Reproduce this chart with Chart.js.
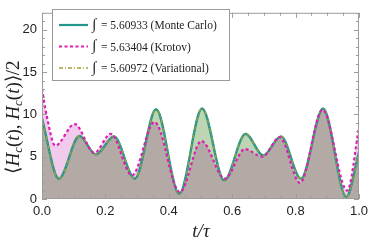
<!DOCTYPE html>
<html>
<head>
<meta charset="utf-8">
<script src="https://cdn.jsdelivr.net/npm/chart.js@4"></script>
<style>
  html, body { margin: 0; padding: 0; background: #fff; }
</style>
</head>
<body>
<canvas id="chart" width="373" height="242"></canvas>
<script>
// values (t/tau and <Hc,Hc>/2)
const tMonteCarlo = [0, 0.053, 0.118, 0.170, 0.227, 0.293, 0.360, 0.433, 0.505, 0.575, 0.642, 0.698, 0.754, 0.817, 0.887, 0.960, 1.0];
const monteCarlo = [9.5, 2.4, 7.45, 5.25, 7.4, 2.4, 10.6, 0.6, 10.7, 2.2, 7.7, 5.15, 7.4, 2.4, 10.7, 0.25, 5.5];
const variational = [9.5, 2.4, 7.45, 5.25, 7.4, 2.4, 10.6, 0.6, 10.7, 2.2, 7.7, 5.15, 7.4, 2.4, 10.7, 0.25, 5.5];
const tKrotov = [0, 0.015, 0.042, 0.103, 0.165, 0.217, 0.284, 0.355, 0.435, 0.503, 0.577, 0.640, 0.695, 0.750, 0.814, 0.885, 0.963, 1.0];
const krotov = [13.0, 9.8, 6.3, 8.85, 5.45, 7.7, 2.8, 9.1, 0.8, 6.85, 2.4, 5.9, 5.0, 7.3, 1.9, 10.55, 1.0, 8.4];

const seriesNames = ['Monte Carlo', 'Krotov', 'Variational'];
const integrals = ['5.60933', '5.63404', '5.60972'];

const xTicks = [0, 0.2, 0.4, 0.6, 0.8, 1.0];
const yTicks = [0, 5, 10, 15, 20];

const toPoints = (ts, vs) => ts.map((t, i) => ({ x: t, y: vs[i] }));

const COL_MC = '#23968c';
const COL_KR = '#dd1fb6';
const COL_VAR = '#a8a032';

// fills are multiplied so the overlap gets the brownish tone
const fillBlend = {
  id: 'fillBlend',
  beforeDatasetsDraw(chart) { chart.ctx.globalCompositeOperation = 'multiply'; },
  beforeDatasetDraw(chart, args) {
    if (!chart.data.datasets[args.index].fill) chart.ctx.globalCompositeOperation = 'source-over';
  },
  afterDatasetsDraw(chart) { chart.ctx.globalCompositeOperation = 'source-over'; }
};

// mathematica style frame with inward ticks on all four sides
const frame = {
  id: 'frame',
  afterDatasetsDraw(chart) {
    const { ctx, chartArea: a, scales } = chart;
    const xs = scales.x, ys = scales.y;
    ctx.save();
    ctx.strokeStyle = '#9d9d9d';
    ctx.lineWidth = 1;
    ctx.strokeRect(a.left + 0.5, a.top + 0.5, a.right - a.left - 1, a.bottom - a.top - 1);
    ctx.beginPath();
    for (let i = 0; i <= 20; i++) {
      const v = i * 0.05;
      const px = Math.round(xs.getPixelForValue(v)) + 0.5;
      const len = i % 4 === 0 ? 5 : 3;
      ctx.moveTo(px, a.bottom); ctx.lineTo(px, a.bottom - len);
      ctx.moveTo(px, a.top); ctx.lineTo(px, a.top + len);
    }
    for (let v = 0; v <= 22; v++) {
      const py = Math.round(ys.getPixelForValue(v)) + 0.5;
      const len = v % 5 === 0 ? 5 : 3;
      ctx.moveTo(a.left, py); ctx.lineTo(a.left + len, py);
      ctx.moveTo(a.right, py); ctx.lineTo(a.right - len, py);
    }
    ctx.stroke();
    ctx.restore();
  },
  afterDraw(chart) {
    const ctx = chart.ctx;
    ctx.save();
    // legend box
    ctx.fillStyle = '#fff';
    ctx.fillRect(52.5, 9.5, 177, 71);
    ctx.strokeStyle = '#9a9a9a';
    ctx.lineWidth = 1;
    ctx.strokeRect(52.5, 9.5, 177, 71);
    const styles = [
      { c: COL_MC, w: 2.2, d: [] },
      { c: COL_KR, w: 2, d: [3, 2.5] },
      { c: COL_VAR, w: 1.5, d: [4, 2, 1, 2] }
    ];
    seriesNames.forEach((name, i) => {
      const y = 25 + i * 21.5;
      ctx.strokeStyle = styles[i].c;
      ctx.lineWidth = styles[i].w;
      ctx.setLineDash(styles[i].d);
      ctx.beginPath(); ctx.moveTo(59, y); ctx.lineTo(88, y); ctx.stroke();
      ctx.setLineDash([]);
      ctx.fillStyle = '#222';
      ctx.textBaseline = 'middle';
      ctx.textAlign = 'left';
      ctx.font = '15px "Liberation Serif"';
      ctx.fillText('\u222B', 92, y);
      ctx.font = '11.5px "Liberation Serif"';
      ctx.fillText('= ' + integrals[i] + ' (' + name + ')', 101, y + 1);
    });

    // y axis title  <H_c(t),H_c(t)>/2
    const parts = [
      ['\u27E8', 'n'], ['H', 'i'], ['c', 's'], ['(', 'n'], ['t', 'i'], [')', 'n'], [', ', 'n'],
      ['H', 'i'], ['c', 's'], ['(', 'n'], ['t', 'i'], [')', 'n'], ['\u27E9', 'n'], ['/2', 'n']
    ];
    const fontFor = k => k === 'n' ? '19px "Liberation Serif"'
      : k === 'i' ? 'italic 19px "Liberation Serif"' : 'italic 13px "Liberation Serif"';
    let total = 0;
    parts.forEach(p => { ctx.font = fontFor(p[1]); total += ctx.measureText(p[0]).width; });
    ctx.translate(14, 117);
    ctx.rotate(-Math.PI / 2);
    ctx.fillStyle = '#222';
    ctx.textBaseline = 'middle';
    let x = -total / 2;
    parts.forEach(p => {
      ctx.font = fontFor(p[1]);
      ctx.fillText(p[0], x, p[1] === 's' ? 5 : 0);
      x += ctx.measureText(p[0]).width;
    });
    ctx.restore();

    // x axis title
    ctx.save();
    ctx.fillStyle = '#222';
    ctx.font = 'italic 19px "Liberation Serif"';
    ctx.textAlign = 'center';
    ctx.textBaseline = 'middle';
    ctx.fillText('t/\u03C4', 201, 232);
    ctx.restore();
  }
};

const tickFont = { family: 'Liberation Sans', size: 13 };

new Chart(document.getElementById('chart'), {
  type: 'line',
  data: {
    datasets: [
      { label: 'fill MC', data: toPoints(tMonteCarlo, monteCarlo), fill: 'origin', backgroundColor: '#bed5b3',
        borderWidth: 0, pointRadius: 0, cubicInterpolationMode: 'monotone', order: 5 },
      { label: 'fill Krotov', data: toPoints(tKrotov, krotov), fill: 'origin', backgroundColor: '#f1cbeb',
        borderWidth: 0, pointRadius: 0, cubicInterpolationMode: 'monotone', order: 4 },
      { label: seriesNames[0], data: toPoints(tMonteCarlo, monteCarlo), fill: false, borderColor: COL_MC,
        borderWidth: 2.4, pointRadius: 0, cubicInterpolationMode: 'monotone', order: 2 },
      { label: seriesNames[2], data: toPoints(tMonteCarlo, variational), fill: false, borderColor: COL_VAR,
        borderWidth: 1.2, borderDash: [4, 2, 1, 2], pointRadius: 0, cubicInterpolationMode: 'monotone', order: 1 },
      { label: seriesNames[1], data: toPoints(tKrotov, krotov), fill: false, borderColor: COL_KR,
        borderWidth: 2.2, borderDash: [3, 2.5], pointRadius: 0, cubicInterpolationMode: 'monotone', order: 0 }
    ]
  },
  options: {
    responsive: false,
    animation: false,
    layout: { padding: { top: 1, right: 10, left: 0, bottom: 0 } },
    plugins: { legend: { display: false }, tooltip: { enabled: false } },
    scales: {
      x: {
        type: 'linear', min: 0, max: 1,
        afterBuildTicks: s => { s.ticks = xTicks.map(v => ({ value: v })); },
        ticks: { callback: v => v.toFixed(1), font: tickFont, color: '#222', padding: 5, maxRotation: 0, autoSkip: false },
        grid: { display: false, drawTicks: false },
        border: { display: false },
        afterFit: s => { s.height = 43; }
      },
      y: {
        min: 0, max: 22,
        afterBuildTicks: s => { s.ticks = yTicks.map(v => ({ value: v })); },
        ticks: { font: tickFont, color: '#222', padding: 5 },
        grid: { display: false, drawTicks: false },
        border: { display: false },
        afterFit: s => { s.width = 42; }
      }
    }
  },
  plugins: [fillBlend, frame]
});
</script>
</body>
</html>
